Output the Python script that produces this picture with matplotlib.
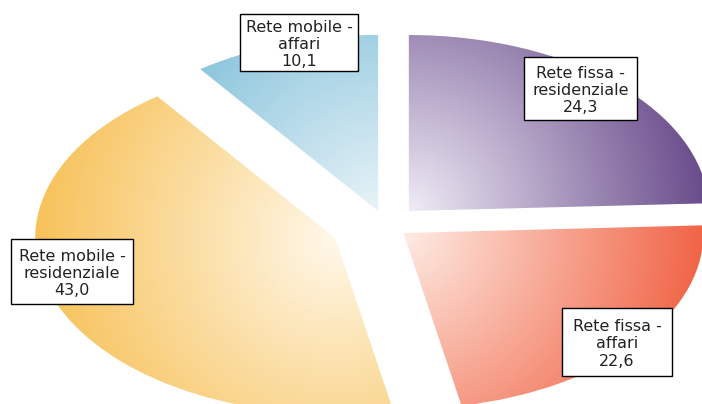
import numpy as np
import matplotlib
matplotlib.use("Agg")
import matplotlib.pyplot as plt
from matplotlib.patches import Rectangle

# ---- data ----
categories = ["Rete fissa -\nresidenziale", "Rete fissa -\naffari",
              "Rete mobile -\nresidenziale", "Rete mobile -\naffari"]
values = [24.3, 22.6, 43.0, 10.1]
explode = [0.110, 0.074, 0.185, 0.084]

outer_colors = [(104, 74, 138), (241, 100, 70), (247, 194, 90), (112, 184, 212)]
inner_colors = [(240, 236, 246), (254, 236, 228), (255, 248, 234), (232, 243, 248)]

# label boxes in pixels: (left, top, width, height)
label_boxes = [(524, 57, 113, 63), (562, 308, 110, 68),
               (11, 239, 122, 65), (240, 14, 118, 57)]

W, H = 702, 404
fig = plt.figure(figsize=(W / 100, H / 100), dpi=100)
ax = fig.add_axes([0, 0, 1, 1])

wedges, _ = ax.pie(values, startangle=90, counterclock=False, explode=explode,
                   wedgeprops=dict(edgecolor="none", linewidth=0))

cx_pix, cy_pix = 386.0, 225.0
ax_px, by_px = 300.0, 176.0
x0, x1 = -cx_pix / ax_px, (W - cx_pix) / ax_px
y0, y1 = -(H - cy_pix) / by_px, cy_pix / by_px

X = np.linspace(x0, x1, W)
Y = np.linspace(y0, y1, H)
XX, YY = np.meshgrid(X, Y)
R = 300.0
for w, oc, ic in zip(wedges, outer_colors, inner_colors):
    w.set_facecolor("none")
    cx, cy = w.center
    d = np.hypot((XX - cx) * ax_px, (YY - cy) * by_px)
    t = np.clip(d / R, 0, 1)[..., None]
    oc_ = np.array(oc) / 255.0
    ic_ = np.array(ic) / 255.0
    img = ic_ + (oc_ - ic_) * t
    im = ax.imshow(img, extent=(x0, x1, y0, y1), origin="lower",
                   aspect="auto", interpolation="bilinear", zorder=1)
    im.set_clip_path(w)

ax.set_aspect("auto")
ax.set_xlim(x0, x1)
ax.set_ylim(y0, y1)
ax.axis("off")

for cat, v, (bl, bt, bw, bh) in zip(categories, values, label_boxes):
    ax.add_patch(Rectangle((bl / W, 1 - (bt + bh) / H), bw / W, bh / H,
                           transform=ax.transAxes, facecolor="white",
                           edgecolor="black", linewidth=1.0, zorder=4))
    txt = cat + "\n" + f"{v:.1f}".replace(".", ",")
    ax.text((bl + bw / 2) / W, 1 - (bt + bh / 2 + 2) / H, txt,
            transform=ax.transAxes, ha="center", va="center",
            multialignment="center", fontsize=11.5, color="#222222",
            family="DejaVu Sans", linespacing=1.18, zorder=5)

fig.savefig("out.png", dpi=100)
